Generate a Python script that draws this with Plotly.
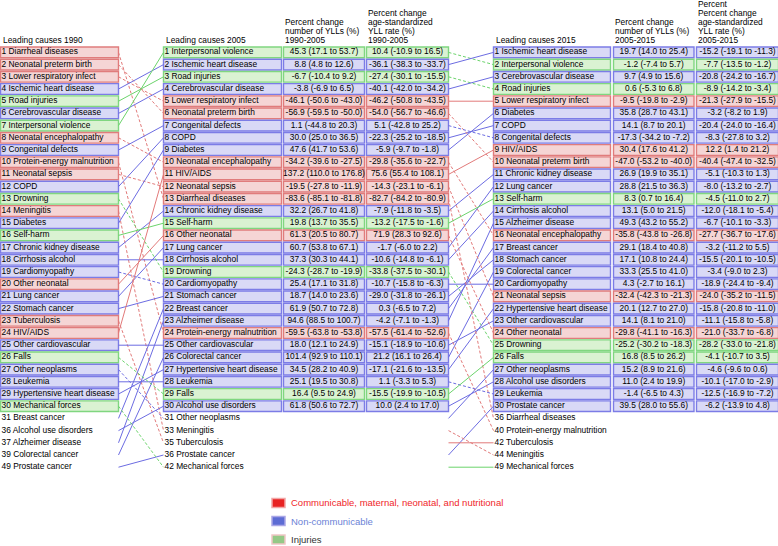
import plotly.graph_objects as go

W, H = 778, 546

# ---------------- data ----------------
causes_1990 = ["Diarrheal diseases", "Neonatal preterm birth", "Lower respiratory infect",
               "Ischemic heart disease", "Road injuries", "Cerebrovascular disease",
               "Interpersonal violence", "Neonatal encephalopathy", "Congenital defects",
               "Protein-energy malnutrition", "Neonatal sepsis", "COPD", "Drowning",
               "Meningitis", "Diabetes", "Self-harm", "Chronic kidney disease",
               "Cirrhosis alcohol", "Cardiomyopathy", "Other neonatal", "Lung cancer",
               "Stomach cancer", "Tuberculosis", "HIV/AIDS", "Other cardiovascular", "Falls",
               "Other neoplasms", "Leukemia", "Hypertensive heart disease", "Mechanical forces",
               "Breast cancer", "Alcohol use disorders", "Alzheimer disease",
               "Colorectal cancer", "Prostate cancer"]
ranks_1990 = list(range(1, 31)) + [31, 36, 37, 39, 49]

causes_2005 = ["Interpersonal violence", "Ischemic heart disease", "Road injuries",
               "Cerebrovascular disease", "Lower respiratory infect", "Neonatal preterm birth",
               "Congenital defects", "COPD", "Diabetes", "Neonatal encephalopathy", "HIV/AIDS",
               "Neonatal sepsis", "Diarrheal diseases", "Chronic kidney disease", "Self-harm",
               "Other neonatal", "Lung cancer", "Cirrhosis alcohol", "Drowning",
               "Cardiomyopathy", "Stomach cancer", "Breast cancer", "Alzheimer disease",
               "Protein-energy malnutrition", "Other cardiovascular", "Colorectal cancer",
               "Hypertensive heart disease", "Leukemia", "Falls", "Alcohol use disorders",
               "Other neoplasms", "Meningitis", "Tuberculosis", "Prostate cancer",
               "Mechanical forces"]
ranks_2005 = list(range(1, 31)) + [31, 33, 35, 36, 42]

causes_2015 = ["Ischemic heart disease", "Interpersonal violence", "Cerebrovascular disease",
               "Road injuries", "Lower respiratory infect", "Diabetes", "COPD",
               "Congenital defects", "HIV/AIDS", "Neonatal preterm birth",
               "Chronic kidney disease", "Lung cancer", "Self-harm", "Cirrhosis alcohol",
               "Alzheimer disease", "Neonatal encephalopathy", "Breast cancer",
               "Stomach cancer", "Colorectal cancer", "Cardiomyopathy", "Neonatal sepsis",
               "Hypertensive heart disease", "Other cardiovascular", "Other neonatal",
               "Drowning", "Falls", "Other neoplasms", "Alcohol use disorders", "Leukemia",
               "Prostate cancer", "Diarrheal diseases", "Protein-energy malnutrition",
               "Tuberculosis", "Meningitis", "Mechanical forces"]
ranks_2015 = list(range(1, 31)) + [36, 40, 42, 44, 49]

communicable = ["Diarrheal diseases", "Neonatal preterm birth", "Lower respiratory infect",
                "Neonatal encephalopathy", "Protein-energy malnutrition", "Neonatal sepsis",
                "Meningitis", "Other neonatal", "Tuberculosis", "HIV/AIDS"]
injuries = ["Road injuries", "Interpersonal violence", "Drowning", "Self-harm", "Falls",
            "Mechanical forces"]

# Percent change number of YLLs 1990-2005 (mean, lower, upper)
yll_9005 = [45.3, 8.8, -6.7, -3.8, -46.1, -56.9, 1.1, 30.0, 47.6, -34.2, 137.2, -19.5, -83.6,
            32.2, 19.8, 61.3, 60.7, 37.3, -24.3, 25.4, 18.7, 61.9, 94.6, -59.5, 18.0, 101.4,
            34.5, 25.1, 16.4, 61.8]
yll_9005_lo = [17.1, 4.8, -10.4, -6.9, -50.6, -59.5, -44.8, 25.0, 41.7, -39.6, 110.0, -27.8,
               -85.1, 26.7, 13.7, 20.5, 53.8, 30.3, -28.7, 17.1, 14.0, 50.7, 88.5, -63.8, 12.1,
               92.9, 28.2, 19.5, 9.5, 50.6]
yll_9005_hi = [53.7, 12.6, 9.2, 6.5, -43.0, -50.0, 20.3, 36.5, 53.6, -27.5, 176.8, -11.9,
               -81.8, 41.8, 35.5, 80.7, 67.1, 44.1, -19.9, 31.8, 23.6, 72.8, 100.7, -53.8, 24.9,
               110.1, 40.9, 30.8, 24.9, 72.7]
# Percent change age-standardized YLL rate 1990-2005
asr_9005 = [10.4, -36.1, -27.4, -40.1, -46.2, -54.0, 5.1, -22.3, -5.9, -29.8, 75.6, -14.3,
            -82.7, -7.9, -13.2, 71.9, -1.7, -10.6, -33.8, -10.7, -29.0, 0.3, -4.2, -57.5,
            -15.1, 21.2, -17.1, 1.1, -15.5, 10.0]
asr_9005_lo = [-10.9, -38.3, -30.1, -42.0, -50.8, -56.7, -42.8, -25.2, -9.7, -35.6, 55.4,
               -23.1, -84.2, -11.8, -17.5, 28.3, -6.0, -14.8, -37.5, -15.8, -31.8, -6.5, -7.1,
               -61.4, -18.9, 16.1, -21.6, -3.3, -19.9, 2.4]
asr_9005_hi = [16.5, -33.7, -15.5, -34.2, -43.5, -46.6, 25.2, -18.5, -1.8, -22.7, 108.1, -6.1,
               -80.9, -3.5, -1.6, 92.6, 2.2, -6.1, -30.1, -6.3, -26.1, 7.2, -1.3, -52.6, -10.6,
               26.4, -13.5, 5.3, -10.5, 17.0]
# Percent change number of YLLs 2005-2015
yll_0515 = [19.7, -1.2, 9.7, 0.6, -9.5, 35.8, 14.1, -17.3, 30.4, -47.0, 26.9, 28.8, 8.3, 13.1,
            49.3, -35.8, 29.1, 17.1, 33.3, 4.3, -32.4, 20.1, 14.1, -29.8, -25.2, 16.8, 15.2,
            11.0, -1.4, 39.5]
yll_0515_lo = [14.0, -7.4, 4.9, -5.3, -19.8, 28.7, 8.7, -34.2, 17.6, -53.2, 19.9, 21.5, 0.7,
               5.0, 43.2, -43.8, 18.4, 10.8, 25.5, -2.7, -42.3, 12.7, 8.1, -41.1, -30.2, 8.5,
               8.9, 2.4, -6.5, 28.0]
yll_0515_hi = [25.4, 5.7, 15.6, 6.8, -2.9, 43.1, 20.1, -7.2, 41.2, -40.0, 35.1, 36.3, 16.4,
               21.5, 55.2, -26.8, 40.8, 24.4, 41.0, 16.1, -21.3, 27.0, 21.0, -16.3, -18.3, 26.2,
               21.6, 19.9, 4.3, 55.6]
# Percent change age-standardized YLL rate 2005-2015
asr_0515 = [-15.2, -7.7, -20.8, -8.9, -21.3, -3.2, -20.4, -8.3, 12.2, -40.4, -5.1, -8.0, -4.5,
            -12.0, -6.7, -27.7, -3.2, -15.5, -3.4, -18.9, -24.0, -15.8, -11.1, -21.0, -28.2,
            -4.1, -4.6, -10.1, -12.5, -6.2]
asr_0515_lo = [-19.1, -13.5, -24.2, -14.2, -27.9, -8.2, -24.0, -27.8, 1.4, -47.4, -10.3, -13.2,
               -11.0, -18.1, -10.1, -36.7, -11.2, -20.1, -9.0, -24.4, -35.2, -20.8, -15.8,
               -33.7, -33.0, -10.7, -9.6, -17.0, -16.9, -13.9]
asr_0515_hi = [-11.3, -1.2, -16.7, -3.4, -15.5, 1.9, -16.4, 3.2, 21.2, -32.5, 1.3, -2.7, 2.7,
               -5.4, -3.3, -17.6, 5.5, -10.5, 2.3, -9.4, -11.5, -11.0, -5.8, -6.8, -21.8, 3.5,
               0.6, -2.9, -7.2, 4.8]

# ---------------- styles ----------------
FONT = "Arial"
FS = 8.4
TXT = "#000000"
FILL = {"c": "#f5d5d5", "n": "#d9d9f6", "i": "#daf2d2"}
EDGE = {"c": "#e07c7c", "n": "#7c7ce6", "i": "#80d680"}
LINE = {"c": "#e27a7a", "n": "#6c6ce2", "i": "#6cd46c"}

def cat(name):
    if name in communicable:
        return "c"
    if name in injuries:
        return "i"
    return "n"

def fmt(m, lo, hi):
    return f"{m:.1f} ({lo:.1f} to {hi:.1f})"

# vertical scale: slot index -> pixel
Y0, DY = 52.4, 12.2
y_top = 1 - Y0 / DY
y_bot = 1 + (H - Y0) / DY

def slots(lst):
    return list(range(1, len(lst) + 1))

# column geometry (x in pixels)
COLS = {
    "1990": (0.5, 118.5),
    "2005": (163.5, 281.5),
    "2015": (493.5, 610.5),
}
NUM_COLS = [(283.5, 364.5), (366.5, 448.5), (613.5, 694.0), (696.5, 778.5)]

fig = go.Figure()

def add_boxes(x0, x1, names, ys):
    fig.add_trace(go.Bar(
        orientation="h", y=ys, x=[x1 - x0] * len(ys), base=[x0] * len(ys), width=0.88,
        marker=dict(color=[FILL[cat(n)] for n in names],
                    line=dict(color=[EDGE[cat(n)] for n in names], width=1.4)),
        hoverinfo="skip", showlegend=False))

def add_text(x, ys, texts, pos="middle right"):
    fig.add_trace(go.Scatter(
        x=[x] * len(ys), y=ys, text=texts, mode="text", textposition=pos,
        textfont=dict(family=FONT, size=FS, color=TXT),
        hoverinfo="skip", showlegend=False, cliponaxis=False))

# connectors
def add_connectors(names_a, names_b, xa, xb):
    sb = {n: i + 1 for i, n in enumerate(names_b)}
    groups = {}
    for i, n in enumerate(names_a):
        ya, yb = i + 1, sb[n]
        key = (cat(n), "dash" if yb > ya else "solid")
        gx, gy = groups.setdefault(key, ([], []))
        gx += [xa, xb, None]
        gy += [ya, yb, None]
    for (c, d), (gx, gy) in groups.items():
        fig.add_trace(go.Scatter(
            x=gx, y=gy, mode="lines",
            line=dict(color=LINE[c], width=1, dash="3px,2px" if d == "dash" else "solid"),
            hoverinfo="skip", showlegend=False))

add_connectors(causes_1990, causes_2005, COLS["1990"][1], COLS["2005"][0])
add_connectors(causes_2005, causes_2015, NUM_COLS[1][1], COLS["2015"][0])

# boxes
for key, names, ranks in [("1990", causes_1990, ranks_1990),
                          ("2005", causes_2005, ranks_2005),
                          ("2015", causes_2015, ranks_2015)]:
    x0, x1 = COLS[key]
    top = names[:30]
    ys = slots(names)
    add_boxes(x0, x1, top, ys[:30])
    add_text(x0 + 1, ys, [f"{r} {n}" for r, n in zip(ranks, names)])

top05 = causes_2005[:30]
top15 = causes_2015[:30]
s30 = list(range(1, 31))
for (x0, x1), names, vals in [
        (NUM_COLS[0], top05, (yll_9005, yll_9005_lo, yll_9005_hi)),
        (NUM_COLS[1], top05, (asr_9005, asr_9005_lo, asr_9005_hi)),
        (NUM_COLS[2], top15, (yll_0515, yll_0515_lo, yll_0515_hi)),
        (NUM_COLS[3], top15, (asr_0515, asr_0515_lo, asr_0515_hi))]:
    add_boxes(x0, x1, names, s30)
    add_text((x0 + x1) / 2, s30, [fmt(*t) for t in zip(*vals)], pos="middle center")

# headers
def header(x, lines_px):
    for txt, py in lines_px:
        fig.add_annotation(x=x, y=1 - py / H, xref="x", yref="paper", text=txt,
                           showarrow=False, xanchor="left", yanchor="middle",
                           font=dict(family=FONT, size=FS, color=TXT))

header(0.5, [("Leading causes 1990", 40.5)])
header(163.5, [("Leading causes 2005", 40.5)])
header(493.5, [("Leading causes 2015", 40.5)])
header(283, [("Percent change", 22), ("number of YLLs (%)", 31), ("1990-2005", 40.5)])
header(366, [("Percent change", 13), ("age-standardized", 22), ("YLL rate (%)", 31),
             ("1990-2005", 40.5)])
header(613, [("Percent change", 22), ("number of YLLs (%)", 31), ("2005-2015", 40.5)])
header(696, [("Percent", 4), ("Percent change", 13), ("age-standardized", 22),
             ("YLL rate (%)", 31), ("2005-2015", 40.5)])

# legend
legend_items = [
    ("Communicable, maternal, neonatal, and nutritional", "#e82222", "#f2a6a6", "#f0262a", 503),
    ("Non-communicable", "#5d6cd4", "#aaa6e6", "#6b82d6", 521),
    ("Injuries", "#94c987", "#f0c6c6", "#333333", 539.5),
]
for txt, fc, lc, tc, py in legend_items:
    fig.add_shape(type="rect", xref="x", yref="paper", x0=272, x1=285,
                  y0=1 - (py - 4.5) / H, y1=1 - (py + 4.5) / H,
                  fillcolor=fc, line=dict(color=lc, width=1.5))
    fig.add_annotation(x=289, y=1 - py / H, xref="x", yref="paper", text=txt,
                       showarrow=False, xanchor="left", yanchor="middle",
                       font=dict(family=FONT, size=9.5, color=tc))

fig.update_layout(
    width=W, height=H, margin=dict(l=0, r=0, t=0, b=0),
    paper_bgcolor="white", plot_bgcolor="white", barmode="overlay",
    xaxis=dict(range=[0, W], visible=False, fixedrange=True),
    yaxis=dict(range=[y_bot, y_top], visible=False, fixedrange=True),
    showlegend=False,
)

fig.write_html(
    "out.html",
    config={"displayModeBar": False, "staticPlot": True},
    post_script="document.body.style.margin='0';document.body.style.padding='0';"
                "document.body.style.overflow='hidden';",
)
